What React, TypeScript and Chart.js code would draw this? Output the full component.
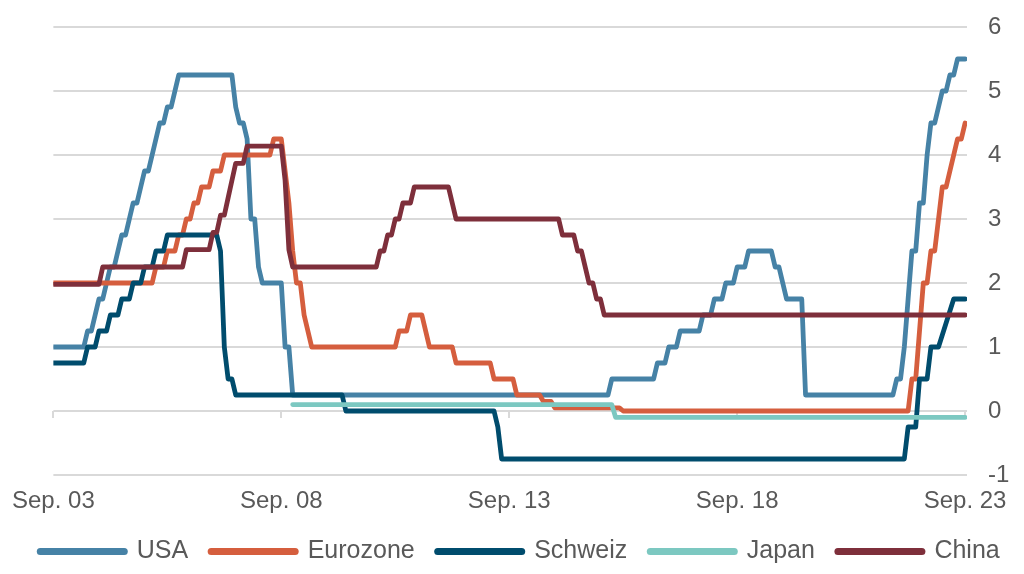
import React, { useEffect, useRef } from "react";
import { Chart, registerables } from "chart.js";

Chart.register(...registerables);

// Month index 0 = Sep 2003 ... 240 = Sep 2023
const xTickMonths = [0, 60, 120, 180, 240];
const xTickLabels = ["Sep. 03", "Sep. 08", "Sep. 13", "Sep. 18", "Sep. 23"];

const seriesNames = ["USA", "Eurozone", "Schweiz", "Japan", "China"];
const seriesColors = ["#4682A6", "#D55E3E", "#004C6D", "#7CC8C1", "#7E2F3B"];

// Change points (month index, rate in %)
const usaMonths = [0, 8, 9, 10, 11, 12, 13, 14, 15, 16, 17, 18, 19, 20, 21, 22, 23, 24, 25, 26, 27, 28, 29, 30, 31, 32, 33, 47, 48, 49, 50, 51, 52, 53, 54, 55, 60, 61, 62, 63, 146, 147, 158, 159, 161, 162, 164, 165, 170, 171, 173, 174, 176, 177, 179, 180, 182, 183, 189, 190, 191, 192, 193, 197, 198, 221, 222, 223, 224, 225, 226, 227, 228, 229, 230, 231, 232, 233, 234, 235, 236, 237, 238, 240];
const usaRates = [1.0, 1.0, 1.25, 1.25, 1.5, 1.75, 1.75, 2.0, 2.25, 2.25, 2.5, 2.75, 2.75, 3.0, 3.25, 3.25, 3.5, 3.75, 3.75, 4.0, 4.25, 4.5, 4.5, 4.75, 4.75, 5.0, 5.25, 5.25, 4.75, 4.5, 4.5, 4.25, 3.0, 3.0, 2.25, 2.0, 2.0, 1.0, 1.0, 0.25, 0.25, 0.5, 0.5, 0.75, 0.75, 1.0, 1.0, 1.25, 1.25, 1.5, 1.5, 1.75, 1.75, 2.0, 2.0, 2.25, 2.25, 2.5, 2.5, 2.25, 2.25, 2.0, 1.75, 1.75, 0.25, 0.25, 0.5, 0.5, 1.0, 1.75, 2.5, 2.5, 3.25, 3.25, 4.0, 4.5, 4.5, 4.75, 5.0, 5.0, 5.25, 5.25, 5.5, 5.5];

const euroMonths = [0, 26, 27, 29, 30, 32, 33, 34, 35, 36, 37, 38, 39, 41, 42, 44, 45, 57, 58, 60, 61, 62, 63, 64, 65, 66, 67, 68, 90, 91, 93, 94, 97, 98, 99, 105, 106, 115, 116, 121, 122, 128, 129, 131, 132, 149, 150, 225, 226, 227, 228, 229, 230, 231, 232, 233, 234, 235, 236, 237, 238, 239, 240];
const euroRates = [2.0, 2.0, 2.25, 2.25, 2.5, 2.5, 2.75, 2.75, 3.0, 3.0, 3.25, 3.25, 3.5, 3.5, 3.75, 3.75, 4.0, 4.0, 4.25, 4.25, 3.75, 3.25, 2.5, 2.0, 2.0, 1.5, 1.25, 1.0, 1.0, 1.25, 1.25, 1.5, 1.5, 1.25, 1.0, 1.0, 0.75, 0.75, 0.5, 0.5, 0.25, 0.25, 0.15, 0.15, 0.05, 0.05, 0.0, 0.0, 0.5, 0.5, 1.25, 2.0, 2.0, 2.5, 2.5, 3.0, 3.5, 3.5, 3.75, 4.0, 4.25, 4.25, 4.5];

const chMonths = [0, 8, 9, 11, 12, 14, 15, 17, 18, 20, 21, 23, 24, 26, 27, 29, 30, 43, 44, 45, 46, 47, 48, 76, 77, 116, 117, 118, 224, 225, 227, 228, 230, 231, 233, 237, 240];
const chRates = [0.75, 0.75, 1.0, 1.0, 1.25, 1.25, 1.5, 1.5, 1.75, 1.75, 2.0, 2.0, 2.25, 2.25, 2.5, 2.5, 2.75, 2.75, 2.5, 1.0, 0.5, 0.5, 0.25, 0.25, 0.0, 0.0, -0.25, -0.75, -0.75, -0.25, -0.25, 0.5, 0.5, 1.0, 1.0, 1.75, 1.75];

const jpMonths = [63, 147, 148, 240];
const jpRates = [0.1, 0.1, -0.1, -0.1];

const cnMonths = [0, 12, 13, 34, 35, 41, 42, 43, 44, 45, 46, 47, 48, 50, 51, 60, 61, 62, 63, 85, 86, 87, 88, 89, 90, 91, 92, 94, 95, 104, 105, 106, 133, 134, 137, 138, 139, 140, 141, 142, 143, 144, 145, 240];
const cnRates = [1.98, 1.98, 2.25, 2.25, 2.52, 2.52, 2.79, 2.79, 3.06, 3.06, 3.33, 3.6, 3.87, 3.87, 4.14, 4.14, 3.6, 2.52, 2.25, 2.25, 2.5, 2.5, 2.75, 2.75, 3.0, 3.0, 3.25, 3.25, 3.5, 3.5, 3.25, 3.0, 3.0, 2.75, 2.75, 2.5, 2.5, 2.25, 2.0, 2.0, 1.75, 1.75, 1.5, 1.5];

const seriesMonths = [usaMonths, euroMonths, chMonths, jpMonths, cnMonths];
const seriesRates = [usaRates, euroRates, chRates, jpRates, cnRates];

const FONT = "'Liberation Sans', Arial, sans-serif";
const TEXT = "#595959";
const GRID = "#D9D9D9";

const zeroTicks = {
  id: "zeroTicks",
  beforeDatasetsDraw(chart: any) {
    const { ctx, scales } = chart;
    const x = scales.x;
    const y = scales.y;
    const y0 = Math.round(y.getPixelForValue(0));
    ctx.save();
    ctx.strokeStyle = GRID;
    ctx.lineWidth = 2;
    xTickMonths.forEach((m) => {
      const px = Math.round(x.getPixelForValue(m));
      ctx.beginPath();
      ctx.moveTo(px, y0);
      ctx.lineTo(px, y0 + 7);
      ctx.stroke();
    });
    ctx.restore();
  },
};

export default function App() {
  const ref = useRef<HTMLCanvasElement | null>(null);

  useEffect(() => {
    if (!ref.current) return;
    const datasets = seriesNames.map((name, i) => ({
      label: name,
      data: seriesMonths[i].map((m, k) => ({ x: m, y: seriesRates[i][k] })),
      borderColor: seriesColors[i],
      backgroundColor: seriesColors[i],
      borderWidth: 4.8,
      borderJoinStyle: "round",
      borderCapStyle: "round",
      pointRadius: 0,
      tension: 0,
      fill: false,
      clip: 0,
      order: seriesNames.length - i,
    }));

    const chart = new Chart(ref.current, {
      type: "line",
      data: { datasets } as any,
      plugins: [zeroTicks],
      options: {
        animation: false,
        responsive: false,
        maintainAspectRatio: false,
        layout: { padding: { left: 16, right: 0, top: 27, bottom: 0 } },
        plugins: {
          tooltip: { enabled: false },
          legend: {
            position: "bottom",
            labels: {
              usePointStyle: true,
              pointStyle: "line",
              pointStyleWidth: 84,
              padding: 23,
              color: TEXT,
              font: { family: FONT, size: 25 },
              generateLabels: (c: any) =>
                c.data.datasets.map((ds: any, i: number) => ({
                  text: ds.label,
                  fillStyle: ds.borderColor,
                  strokeStyle: ds.borderColor,
                  lineWidth: 7,
                  lineCap: "round",
                  pointStyle: "line",
                  hidden: false,
                  datasetIndex: i,
                  fontColor: TEXT,
                })),
            },
          },
        },
        scales: {
          x: {
            type: "linear",
            min: 0,
            max: 240.5,
            grid: { display: false, drawTicks: false },
            border: { display: false },
            afterBuildTicks: (s: any) => {
              s.ticks = xTickMonths.map((v) => ({ value: v }));
            },
            afterFit: (s: any) => {
              s.height = 41;
            },
            ticks: {
              autoSkip: false,
              maxRotation: 0,
              padding: 12,
              color: TEXT,
              font: { family: FONT, size: 24 },
              callback: (_v: any, idx: number) => xTickLabels[idx],
            },
          },
          y: {
            type: "linear",
            position: "right",
            min: -1,
            max: 6,
            grid: { color: GRID, lineWidth: 2, drawTicks: false },
            border: { display: false },
            afterFit: (s: any) => {
              s.width = 57;
              s.paddingTop = 0;
              s.paddingBottom = 0;
            },
            ticks: {
              stepSize: 1,
              padding: 21,
              color: TEXT,
              font: { family: FONT, size: 24 },
            },
          },
          yDummy: {
            type: "linear",
            position: "left",
            display: true,
            grid: { display: false, drawTicks: false },
            border: { display: false },
            ticks: { display: false },
            afterFit: (s: any) => {
              s.width = 35;
              s.paddingTop = 0;
              s.paddingBottom = 0;
            },
          },
        },
      } as any,
    });
    return () => chart.destroy();
  }, []);

  return (
    <div style={{ position: "fixed", left: 0, top: 0, width: 1024, height: 574, background: "#ffffff" }}>
      <canvas ref={ref} width={1024} height={574} style={{ display: "block", width: 1024, height: 574 }} />
    </div>
  );
}
